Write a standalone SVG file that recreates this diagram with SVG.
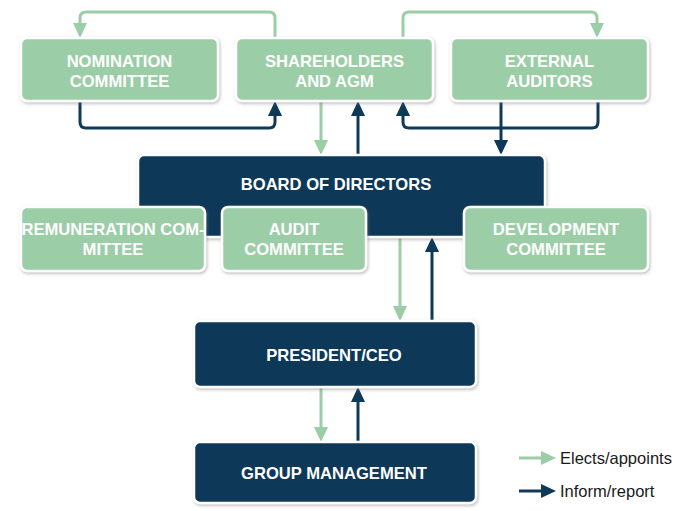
<svg xmlns="http://www.w3.org/2000/svg" width="675" height="511" viewBox="0 0 675 511">
<style>
.g{fill:#9bcda6;stroke:#fff;stroke-width:2.5}
.d{fill:#0e3958;stroke:#fff;stroke-width:2.5}
.t{font-family:"Liberation Sans",Arial,sans-serif;font-weight:bold;font-size:16.6px;fill:#fff;text-anchor:middle}
.l{font-family:"Liberation Sans",Arial,sans-serif;font-size:16.5px;fill:#1a1a1a}
.ga{fill:none;stroke:#9bcda6;stroke-width:3;marker-end:url(#mg)}
.da{fill:none;stroke:#0e3958;stroke-width:3;marker-end:url(#md)}
</style>
<defs>
<filter id="sh" x="-10%" y="-10%" width="120%" height="130%">
<feDropShadow dx="1" dy="1.5" stdDeviation="1.5" flood-color="#777" flood-opacity="0.5"/>
</filter>
<marker id="mg" viewBox="0 0 15 14" refX="7" refY="7" markerWidth="15" markerHeight="14" markerUnits="userSpaceOnUse" orient="auto">
<path d="M0,0 L15,7 L0,14 z" fill="#9bcda6"/>
</marker>
<marker id="md" viewBox="0 0 15 14" refX="7" refY="7" markerWidth="15" markerHeight="14" markerUnits="userSpaceOnUse" orient="auto">
<path d="M0,0 L15,7 L0,14 z" fill="#0e3958"/>
</marker>
</defs>
<rect width="675" height="511" fill="#fff"/>
<g id="connectors">
<path class="ga" d="M275,38 V18 Q275,12 269,12 H86 Q80,12 80,18 V30"/>
<path class="da" d="M80,101 V122 Q80,128 86,128 H269 Q275,128 275,122 V109"/>
<path class="ga" d="M403,38 V18 Q403,12 409,12 H591 Q597,12 597,18 V30"/>
<path class="da" d="M598,101 V122 Q598,128 592,128 H409 Q403,128 403,122 V109"/>
<path class="da" d="M501,101 V147"/>
<path class="ga" d="M321,101 V147"/>
<path class="da" d="M358,155 V109"/>
<path class="ga" d="M400,237 V313"/>
<path class="da" d="M432,321 V245"/>
<path class="ga" d="M321,387 V434"/>
<path class="da" d="M358,442 V395"/>
</g>
<g id="nomination"><rect class="g" filter="url(#sh)" x="21" y="38" width="197" height="63" rx="6"/><text class="t" x="119.5" y="66.5">NOMINATION</text><text class="t" x="119.5" y="86.5">COMMITTEE</text></g>
<g id="shareholders"><rect class="g" filter="url(#sh)" x="236" y="38" width="197" height="63" rx="6"/><text class="t" x="334.5" y="66.5">SHAREHOLDERS</text><text class="t" x="334.5" y="86.5">AND AGM</text></g>
<g id="auditors"><rect class="g" filter="url(#sh)" x="451" y="38" width="197" height="63" rx="6"/><text class="t" x="549.5" y="66.5">EXTERNAL</text><text class="t" x="549.5" y="86.5">AUDITORS</text></g>
<g id="board"><rect class="d" filter="url(#sh)" x="138" y="155" width="407" height="82" rx="6"/><text class="t" x="336" y="190">BOARD OF DIRECTORS</text></g>
<g id="remuneration"><rect class="g" filter="url(#sh)" x="21" y="207" width="184" height="64" rx="6"/><text class="t" x="113" y="235">REMUNERATION COM-</text><text class="t" x="113" y="255">MITTEE</text></g>
<g id="audit"><rect class="g" filter="url(#sh)" x="222" y="207" width="144" height="64" rx="6"/><text class="t" x="294" y="235">AUDIT</text><text class="t" x="294" y="255">COMMITTEE</text></g>
<g id="development"><rect class="g" filter="url(#sh)" x="464" y="207" width="184" height="64" rx="6"/><text class="t" x="556" y="235">DEVELOPMENT</text><text class="t" x="556" y="255">COMMITTEE</text></g>
<g id="president"><rect class="d" filter="url(#sh)" x="194" y="321" width="282" height="66" rx="6"/><text class="t" x="334" y="361">PRESIDENT/CEO</text></g>
<g id="group"><rect class="d" filter="url(#sh)" x="194" y="442" width="282" height="61" rx="6"/><text class="t" x="334" y="479">GROUP MANAGEMENT</text></g>
<g id="legend">
<path class="ga" d="M519,458 H548"/>
<text class="l" x="560" y="464">Elects/appoints</text>
<path class="da" d="M519,491 H548"/>
<text class="l" x="560" y="497">Inform/report</text>
</g>
</svg>
